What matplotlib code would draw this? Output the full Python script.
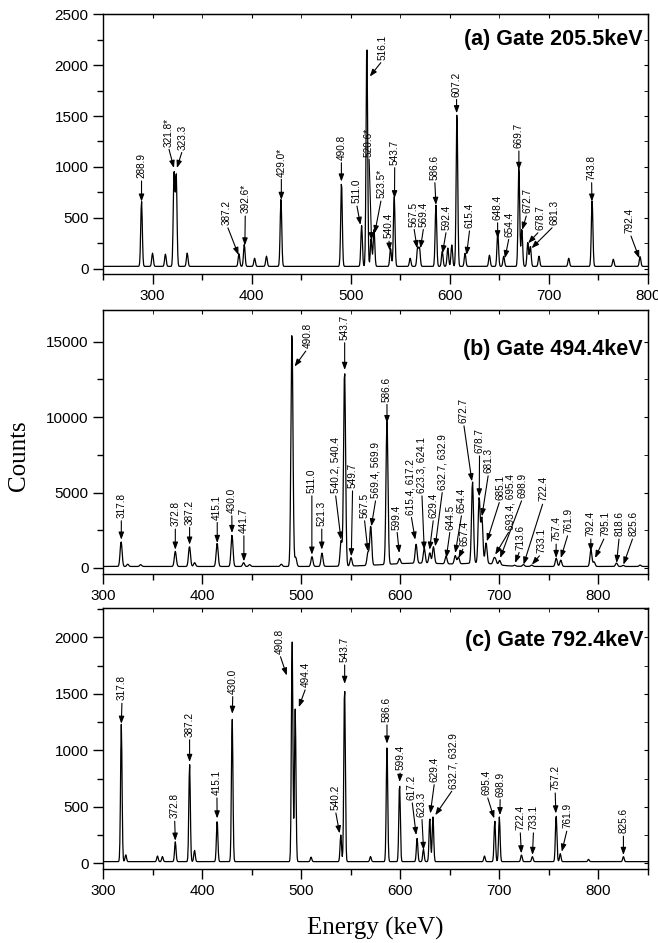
import numpy as np
import matplotlib.pyplot as plt
from matplotlib.ticker import MultipleLocator

plt.rcParams['font.family'] = ['Liberation Sans', 'DejaVu Sans']

# ---------------- panel (a): gate 205.5 keV ----------------
a_bg = 25
a_sigma = 0.8
a_peak_e = [288.9, 300.0, 313.0, 321.7, 323.9, 335.0, 387.2, 392.6, 403.0, 415.0,
            429.6, 490.7, 511.0, 516.3, 520.6, 523.5, 540.2, 543.9, 560.0, 567.5,
            569.4, 586.0, 592.4, 598.0, 602.0, 607.2, 615.4, 640.0, 648.4, 654.4,
            669.7, 672.7, 678.7, 681.3, 690.0, 720.0, 743.6, 765.0, 792.0]
a_peak_h = [640, 130, 120, 940, 900, 130, 128, 215, 80, 100,
            660, 830, 400, 2190, 270, 360, 180, 690, 80, 180,
            180, 600, 150, 180, 210, 1530, 130, 110, 330, 100,
            990, 370, 240, 200, 100, 80, 645, 70, 95]
# (label, arrow tip energy, arrow tip counts, text energy, text counts)
a_notes = [
    ("288.9", 288.9, 660, 288.9, 890), ("321.8*", 321.6, 990, 315.9, 1200),
    ("323.3", 324.6, 990, 330.4, 1170), ("387.2", 386.8, 137, 375.0, 430),
    ("392.6*", 393.2, 230, 393.6, 546), ("429.0*", 430.0, 677, 430.0, 906),
    ("490.8", 490.6, 857, 490.6, 1069), ("511.0", 509.8, 432, 505.8, 644),
    ("516.1", 519.2, 1887, 532.6, 2050), ("520.6*", 521.0, 281, 518.5, 1102),
    ("523.5*", 524.2, 350, 531.0, 693), ("540.4", 539.4, 180, 538.4, 300),
    ("543.7", 544.2, 693, 544.4, 1020), ("567.5", 567.0, 203, 563.6, 415),
    ("569.4", 570.4, 203, 573.7, 415), ("586.6", 586.0, 628, 584.8, 873),
    ("592.4", 592.6, 154, 596.6, 382), ("607.2", 606.9, 1527, 606.8, 1690),
    ("615.4", 616.9, 137, 620.2, 400), ("648.4", 648.3, 300, 648.2, 480),
    ("654.4", 655.6, 105, 660.0, 317), ("669.7", 669.7, 971, 669.7, 1184),
    ("672.7", 673.0, 383, 678.0, 546), ("678.7", 679.0, 252, 691.5, 382),
    ("681.3", 682.5, 203, 706.0, 431), ("743.8", 743.4, 660, 743.1, 873),
    ("792.4", 791.2, 105, 781.8, 350),
]

# ---------------- panel (b): gate 494.4 keV ----------------
b_bg = 100
b_sigma = 1.0
b_peak_e = [318.3, 325.0, 338.0, 373.0, 387.3, 392.5, 415.2, 430.2, 441.9, 448.0,
            480.0, 490.7, 494.5, 510.9, 521.0, 540.3, 543.8, 550.3, 567.4, 570.2,
            586.6, 599.2, 616.0, 624.2, 629.8, 633.5, 646.2, 655.5, 658.7, 672.9,
            679.6, 682.4, 686.6, 694.5, 696.2, 700.3, 715.5, 724.3, 732.6, 757.4,
            762.0, 792.4, 795.6, 818.2, 825.0, 842.0]
b_peak_h = [1650, 150, 120, 1000, 1330, 250, 1550, 2100, 250, 120,
            150, 15600, 600, 650, 880, 1700, 13000, 560, 850, 2600,
            9500, 350, 1250, 1000, 700, 1100, 500, 550, 450, 5400,
            4300, 3000, 1350, 350, 300, 300, 60, 120, 90, 550,
            420, 1100, 300, 230, 70, 90]
b_hump_e = [620.0, 682.0]
b_hump_h = [220, 180]
b_hump_w = [35.0, 15.0]
b_notes = [
    ("317.8", 318.5, 1875, 318.5, 3310), ("372.8", 373.0, 1213, 373.0, 2760),
    ("387.2", 387.4, 1545, 387.4, 2870), ("415.1", 415.3, 1655, 415.3, 3200),
    ("430.0", 430.2, 2316, 430.0, 3640), ("441.7", 442.2, 440, 442.2, 2316),
    ("490.8", 493.3, 13350, 506.7, 14560), ("511.0", 510.8, 880, 510.8, 4960),
    ("521.3", 520.8, 1213, 520.8, 2760), ("540.2, 540.4", 540.2, 1875, 534.5, 4960),
    ("543.7", 543.9, 13125, 543.9, 15110), ("549.7", 550.6, 770, 551.9, 5290),
    ("567.5", 567.4, 1100, 563.7, 3310), ("569.4, 569.9", 570.8, 2760, 575.5, 4630),
    ("586.6", 586.6, 9600, 586.6, 11030), ("599.4", 599.0, 990, 596.6, 2540),
    ("615.4, 617.2", 615.1, 1875, 610.8, 3530), ("623.3, 624.1", 624.2, 1210, 621.8, 4960),
    ("629.4", 629.6, 1210, 633.6, 3310), ("632.7, 632.9", 635.3, 1430, 642.7, 5180),
    ("644.5", 646.4, 660, 650.4, 2540), ("654.4", 655.5, 990, 662.2, 3640),
    ("657.4", 658.8, 660, 664.5, 1430), ("672.7", 672.3, 5740, 663.9, 9600),
    ("678.7", 679.7, 4740, 680.0, 7610), ("681.3", 682.4, 3420, 689.1, 6290),
    ("685.1", 687.4, 1765, 700.8, 4520), ("693.4, 695.4", 695.8, 880, 710.9, 2540),
    ("698.9", 700.8, 660, 723.4, 4630), ("713.6", 715.9, 330, 721.0, 1210),
    ("722.4", 724.4, 220, 744.5, 4410), ("733.1", 732.8, 220, 742.9, 990),
    ("757.4", 757.3, 660, 757.3, 1765), ("761.9", 762.0, 660, 769.7, 2316),
    ("792.4", 792.3, 1100, 792.3, 2100), ("795.1", 796.6, 660, 806.7, 2100),
    ("818.6", 818.3, 330, 821.0, 2100), ("825.6", 825.2, 220, 835.3, 2100),
]

# ---------------- panel (c): gate 792.4 keV ----------------
c_bg = 15
c_sigma = 0.75
c_peak_e = [318.5, 323.0, 355.0, 360.0, 373.0, 387.4, 392.4, 415.2, 430.4, 490.9,
            494.0, 510.0, 540.0, 543.8, 570.0, 586.6, 599.3, 617.0, 623.4, 629.8,
            633.0, 685.0, 695.4, 700.0, 722.3, 733.3, 757.3, 761.5, 790.0, 825.2]
c_peak_h = [1215, 60, 50, 45, 175, 865, 100, 365, 1270, 1960,
            1350, 40, 235, 1560, 45, 1015, 690, 205, 110, 390,
            395, 50, 360, 395, 60, 45, 415, 70, 20, 45]
c_notes = [
    ("317.8", 318.5, 1235, 319.2, 1441), ("372.8", 373.0, 200, 372.3, 397),
    ("387.2", 387.4, 897, 387.4, 1118), ("415.1", 415.2, 397, 415.0, 603),
    ("430.0", 430.5, 1323, 431.0, 1500), ("490.8", 485.5, 1662, 478.2, 1853),
    ("494.4", 497.6, 1382, 505.0, 1559), ("540.2", 538.8, 265, 534.5, 470),
    ("543.7", 543.9, 1588, 543.9, 1780), ("586.6", 586.6, 1059, 586.6, 1250),
    ("599.4", 599.3, 720, 600.0, 823), ("617.2", 616.1, 250, 611.8, 559),
    ("623.3", 623.5, 118, 621.8, 412), ("629.4", 630.3, 441, 634.6, 720),
    ("632.7, 632.9", 635.3, 426, 653.8, 662), ("695.4", 694.8, 397, 687.4, 603),
    ("698.9", 700.6, 426, 700.8, 588), ("722.4", 722.2, 88, 721.0, 294),
    ("733.1", 733.4, 74, 734.5, 294), ("757.2", 757.0, 441, 756.3, 647),
    ("761.9", 763.0, 103, 768.7, 309), ("825.6", 825.2, 74, 825.2, 265),
]


def build_spectrum(energy, bg, sigma, peak_e, peak_h, hump_e=(), hump_h=(), hump_w=()):
    counts = np.full_like(energy, float(bg))
    for c, h in zip(peak_e, peak_h):
        counts += h * np.exp(-0.5 * ((energy - c) / sigma) ** 2)
    for c, h, w in zip(hump_e, hump_h, hump_w):
        counts += h * np.exp(-0.5 * ((energy - c) / w) ** 2)
    return counts


def style_axis(ax, xlim, ylim, ymajor, yminor):
    ax.set_xlim(*xlim)
    ax.set_ylim(*ylim)
    ax.xaxis.set_major_locator(MultipleLocator(100))
    ax.xaxis.set_minor_locator(MultipleLocator(50))
    ax.yaxis.set_major_locator(MultipleLocator(ymajor))
    ax.yaxis.set_minor_locator(MultipleLocator(yminor))
    ax.tick_params(which='both', direction='out', labelsize=11, width=1.0)
    ax.tick_params(which='major', length=7)
    ax.tick_params(which='minor', length=4)
    ax.tick_params(which='both', top=False, right=False)
    for s in ax.spines.values():
        s.set_linewidth(1.0)
    # inward ticks on the top and right frame
    sec = ax.secondary_xaxis('top')
    sec.xaxis.set_major_locator(MultipleLocator(100))
    sec.xaxis.set_minor_locator(MultipleLocator(50))
    sec.tick_params(which='both', direction='in', length=3, labeltop=False)
    sec2 = ax.secondary_yaxis('right')
    sec2.yaxis.set_major_locator(MultipleLocator(ymajor))
    sec2.yaxis.set_minor_locator(MultipleLocator(yminor))
    sec2.tick_params(which='both', direction='in', length=3, labelright=False)


def add_notes(ax, notes):
    for lab, tx, ty, lx, ly in notes:
        ax.annotate(lab, xy=(tx, ty), xytext=(lx, ly), rotation=90,
                    ha='center', va='bottom', fontsize=7.2,
                    arrowprops=dict(arrowstyle='-|>,head_length=0.6,head_width=0.22',
                                    color='k', lw=0.8, shrinkA=0, shrinkB=0,
                                    relpos=(0.5, 0.0)))


fig = plt.figure(figsize=(6.58, 9.43), dpi=100)
ax_a = fig.add_axes([0.1565, 0.7094, 0.8283, 0.2757])
ax_b = fig.add_axes([0.1565, 0.3913, 0.8283, 0.2800])
ax_c = fig.add_axes([0.1565, 0.0785, 0.8283, 0.2768])

e_a = np.arange(250, 800.01, 0.5)
ax_a.plot(e_a, build_spectrum(e_a, a_bg, a_sigma, a_peak_e, a_peak_h), color='k', lw=0.9)
style_axis(ax_a, (250, 800), (-50, 2500), 500, 250)
add_notes(ax_a, a_notes)
ax_a.text(0.991, 0.904, "(a) Gate 205.5keV", transform=ax_a.transAxes,
          ha='right', va='center', fontsize=15.5, fontweight='bold')

e_b = np.arange(300, 850.01, 0.5)
ax_b.plot(e_b, build_spectrum(e_b, b_bg, b_sigma, b_peak_e, b_peak_h,
                              b_hump_e, b_hump_h, b_hump_w), color='k', lw=0.9)
style_axis(ax_b, (300, 850), (-400, 17100), 5000, 2500)
add_notes(ax_b, b_notes)
ax_b.text(0.991, 0.852, "(b) Gate 494.4keV", transform=ax_b.transAxes,
          ha='right', va='center', fontsize=15.5, fontweight='bold')

e_c = np.arange(300, 850.01, 0.5)
ax_c.plot(e_c, build_spectrum(e_c, c_bg, c_sigma, c_peak_e, c_peak_h), color='k', lw=0.9)
style_axis(ax_c, (300, 850), (-50, 2260), 500, 250)
add_notes(ax_c, c_notes)
ax_c.text(0.991, 0.877, "(c) Gate 792.4keV", transform=ax_c.transAxes,
          ha='right', va='center', fontsize=15.5, fontweight='bold')

fig.text(0.029, 1 - 456 / 943, "Counts", rotation=90, ha='center', va='center',
         family='Liberation Serif', fontsize=18)
fig.text(375 / 658, 1 - 928 / 943, "Energy (keV)", ha='center', va='center',
         family='Liberation Serif', fontsize=18)

fig.savefig("out.png", dpi=100)
